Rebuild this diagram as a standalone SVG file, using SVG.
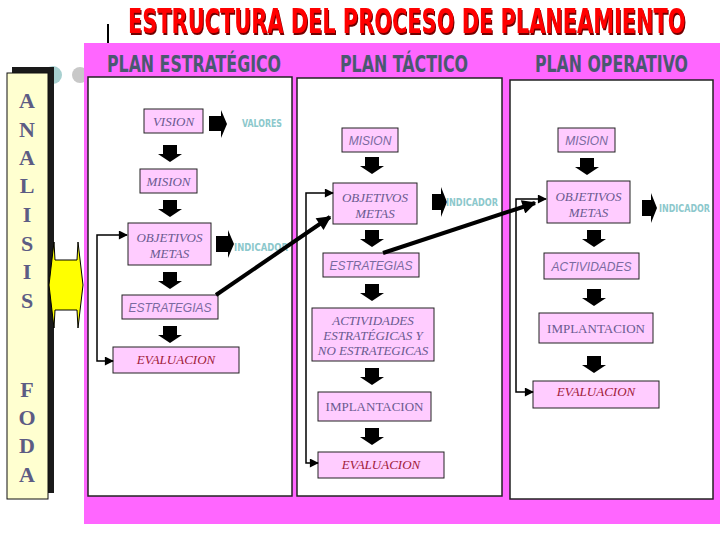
<svg xmlns="http://www.w3.org/2000/svg" xmlns:xlink="http://www.w3.org/1999/xlink" width="720" height="540" viewBox="0 0 720 540">
<style>
.title{font-family:"DejaVu Sans Condensed","Liberation Sans Narrow","Liberation Sans",sans-serif;font-weight:bold;font-size:34px;fill:#ff0000}
.hdr{font-family:"DejaVu Sans Condensed","Liberation Sans Narrow","Liberation Sans",sans-serif;font-weight:bold;font-size:23px;fill:#4a5870}
.side{font-family:"Liberation Serif","DejaVu Serif","Times New Roman",serif;font-weight:bold;font-size:22px;fill:#5c5c84;text-anchor:middle}
.box{fill:#ffccff;stroke:#222;stroke-width:1}
.panel{fill:#fff;stroke:#222;stroke-width:1.5}
.ts{font-family:"Liberation Serif","DejaVu Serif","Times New Roman",serif;font-style:italic;font-size:13px;fill:#6a5a90;text-anchor:middle}
.tn{font-family:"Liberation Serif","DejaVu Serif","Times New Roman",serif;font-size:13px;fill:#6a5a90;text-anchor:middle}
.ta{font-family:"Liberation Sans",Arial,sans-serif;font-style:italic;font-size:12px;fill:#7a6aa0;text-anchor:middle}
.tr{font-family:"Liberation Serif","DejaVu Serif","Times New Roman",serif;font-style:italic;font-size:13px;fill:#a0203a;text-anchor:middle}
.ind{font-family:"DejaVu Sans Condensed","Liberation Sans Narrow","Liberation Sans",sans-serif;font-weight:bold;font-size:11px;fill:#8cc8cc}
.fb{fill:none;stroke:#000;stroke-width:1.5}
.thick{fill:none;stroke:#000;stroke-width:4}
.blk{fill:#000}
</style>
<defs>
<filter id="sh" x="-5%" y="-20%" width="110%" height="150%">
<feOffset in="SourceAlpha" dx="2" dy="2" result="o"/>
<feFlood flood-color="#700000"/>
<feComposite in2="o" operator="in" result="s"/>
<feMerge><feMergeNode in="s"/><feMergeNode in="SourceGraphic"/></feMerge>
</filter>
<path id="da" d="M-7,0 H7 V9 H12 L0,17 L-12,9 H-7 Z"/>
<marker id="ah" viewBox="0 0 10 10" refX="9" refY="5" markerWidth="11" markerHeight="9" markerUnits="userSpaceOnUse" orient="auto-start-reverse"><path d="M0,0 L10,5 L0,10 Z" fill="#000"/></marker>
<marker id="ahT" viewBox="0 0 10 10" refX="9" refY="5" markerWidth="18" markerHeight="14" markerUnits="userSpaceOnUse" orient="auto"><path d="M0,0 L10,5 L0,10 Z" fill="#000"/></marker>
</defs>

<!-- title -->
<g id="title">
<text class="title" transform="translate(128,33) scale(0.68,1)" textLength="820" lengthAdjust="spacingAndGlyphs" filter="url(#sh)">ESTRUCTURA DEL PROCESO DE PLANEAMIENTO</text>
</g>
<line x1="108" y1="24" x2="108" y2="43" stroke="#000" stroke-width="2"/>

<!-- decorative circles and left column -->
<circle cx="53" cy="75" r="9" fill="#a8d0d0"/>
<circle cx="80" cy="75" r="8" fill="#c8c8c8"/>
<g id="analisis">
<rect x="12" y="67" width="42" height="426" fill="#1a1a1a"/>
<rect x="7" y="73" width="41" height="426" fill="#ffffd0" stroke="#111" stroke-width="1"/>
<text class="side" x="27" y="108">A</text>
<text class="side" x="27" y="137">N</text>
<text class="side" x="27" y="165">A</text>
<text class="side" x="27" y="193">L</text>
<text class="side" x="27" y="222">I</text>
<text class="side" x="27" y="251">S</text>
<text class="side" x="27" y="279">I</text>
<text class="side" x="27" y="308">S</text>
<text class="side" x="27" y="397">F</text>
<text class="side" x="27" y="425">O</text>
<text class="side" x="27" y="453">D</text>
<text class="side" x="27" y="482">A</text>
</g>

<!-- magenta background and panels -->
<rect x="84" y="43" width="636" height="481" fill="#ff66ff"/>
<text class="hdr" transform="translate(107,72) scale(0.72,1)" textLength="241.7" lengthAdjust="spacingAndGlyphs">PLAN ESTRATÉGICO</text>
<text class="hdr" transform="translate(340,72) scale(0.72,1)" textLength="177.8" lengthAdjust="spacingAndGlyphs">PLAN TÁCTICO</text>
<text class="hdr" transform="translate(535,72) scale(0.72,1)" textLength="212.5" lengthAdjust="spacingAndGlyphs">PLAN OPERATIVO</text>
<rect class="panel" x="88" y="77" width="204" height="419"/>
<rect class="panel" x="297" y="78" width="205" height="418"/>
<rect class="panel" x="510" y="80" width="203" height="419"/>

<!-- yellow double arrow -->
<polygon points="49,285 54,242 55,260 77,260 78,242 83,285 78,328 77,310 55,310 54,328" fill="#ffff00" stroke="#000" stroke-width="1"/>

<!-- Panel 1 nodes -->
<g id="p1-vision"><rect class="box" x="144" y="109" width="59" height="24"/><text class="ts" x="173.5" y="126">VISION</text></g>
<g id="p1-valores"><path class="blk" d="M209,116 H221 V110 L227,124 L221,138 V131 H209 Z"/><text class="ind" transform="translate(242,127) scale(0.78,1)" textLength="51.3" lengthAdjust="spacingAndGlyphs">VALORES</text></g>
<g id="p1-mision"><rect class="box" x="140" y="169" width="57" height="24"/><text class="ts" x="168.5" y="186">MISION</text></g>
<g id="p1-objetivos"><rect class="box" x="128" y="223" width="83" height="42"/><text class="ts" x="169.5" y="242">OBJETIVOS</text><text class="ts" x="169.5" y="258">METAS</text></g>
<g id="p1-indicador"><path class="blk" d="M216,236 H228 V230 L234,244 L228,258 V252 H216 Z"/><text class="ind" transform="translate(234,251) scale(0.78,1)" textLength="69.2" lengthAdjust="spacingAndGlyphs">INDICADOR</text></g>
<g id="p1-estrategias"><rect class="box" x="122" y="295" width="96" height="24"/><text class="ta" x="170" y="312">ESTRATEGIAS</text></g>
<g id="p1-evaluacion"><rect class="box" x="113" y="347" width="126" height="26"/><text class="tr" x="176" y="364">EVALUACION</text></g>

<!-- Panel 2 nodes -->
<g id="p2-mision"><rect class="box" x="342" y="128" width="56" height="24"/><text class="ta" x="370" y="145">MISION</text></g>
<g id="p2-objetivos"><rect class="box" x="333" y="183" width="84" height="41"/><text class="ts" x="375" y="202">OBJETIVOS</text><text class="ts" x="375" y="218">METAS</text></g>
<g id="p2-indicador"><path class="blk" d="M432,194 H441 V187 L447,202 L441,217 V210 H432 Z"/><text class="ind" transform="translate(446,206) scale(0.78,1)" textLength="66.7" lengthAdjust="spacingAndGlyphs">INDICADOR</text></g>
<g id="p2-estrategias"><rect class="box" x="323" y="253" width="96" height="24"/><text class="ta" x="371" y="270">ESTRATEGIAS</text></g>
<g id="p2-actividades"><rect class="box" x="312" y="308" width="122" height="53"/><text class="ts" x="373" y="325">ACTIVIDADES</text><text class="ts" x="373" y="340">ESTRATÉGICAS Y</text><text class="ts" x="373" y="355">NO ESTRATEGICAS</text></g>
<g id="p2-implantacion"><rect class="box" x="318" y="392" width="113" height="29"/><text class="tn" x="374.5" y="411">IMPLANTACION</text></g>
<g id="p2-evaluacion"><rect class="box" x="318" y="452" width="126" height="26"/><text class="tr" x="381" y="469">EVALUACION</text></g>

<!-- Panel 3 nodes -->
<g id="p3-mision"><rect class="box" x="558" y="128" width="57" height="24"/><text class="ta" x="586.5" y="145">MISION</text></g>
<g id="p3-objetivos"><rect class="box" x="547" y="181" width="83" height="42"/><text class="ts" x="588.5" y="201">OBJETIVOS</text><text class="ts" x="588.5" y="217">METAS</text></g>
<g id="p3-indicador"><path class="blk" d="M642,200 H651 V193 L657,208 L651,223 V216 H642 Z"/><text class="ind" transform="translate(659,212) scale(0.78,1)" textLength="65.4" lengthAdjust="spacingAndGlyphs">INDICADOR</text></g>
<g id="p3-actividades"><rect class="box" x="544" y="253" width="95" height="26"/><text class="ta" x="591.5" y="271">ACTIVIDADES</text></g>
<g id="p3-implantacion"><rect class="box" x="539" y="313" width="114" height="30"/><text class="tn" x="596" y="333">IMPLANTACION</text></g>
<g id="p3-evaluacion"><rect class="box" x="533" y="381" width="126" height="27"/><text class="tr" x="596" y="396">EVALUACION</text></g>

<!-- connectors -->
<g id="connectors">
<use xlink:href="#da" href="#da" x="170" y="145"/>
<use xlink:href="#da" href="#da" x="170" y="200"/>
<use xlink:href="#da" href="#da" x="170" y="272"/>
<use xlink:href="#da" href="#da" x="170" y="326"/>
<use xlink:href="#da" href="#da" x="372" y="157"/>
<use xlink:href="#da" href="#da" x="372" y="230"/>
<use xlink:href="#da" href="#da" x="372" y="284"/>
<use xlink:href="#da" href="#da" x="372" y="368"/>
<use xlink:href="#da" href="#da" x="372" y="428"/>
<use xlink:href="#da" href="#da" x="587" y="158"/>
<use xlink:href="#da" href="#da" x="594" y="230"/>
<use xlink:href="#da" href="#da" x="594" y="289"/>
<use xlink:href="#da" href="#da" x="594" y="356"/>
<path class="fb" d="M127,235 H97 V361 H113" marker-start="url(#ah)" marker-end="url(#ah)"/>
<path class="fb" d="M333,193 H306 V463 H318" marker-start="url(#ah)" marker-end="url(#ah)"/>
<path class="fb" d="M546,199 H516 V392 H533" marker-start="url(#ah)" marker-end="url(#ah)"/>
<path class="thick" d="M216,295 L330,217" marker-end="url(#ahT)"/>
<path class="thick" d="M383,253 L535,203" marker-end="url(#ahT)"/>
</g>
</svg>
